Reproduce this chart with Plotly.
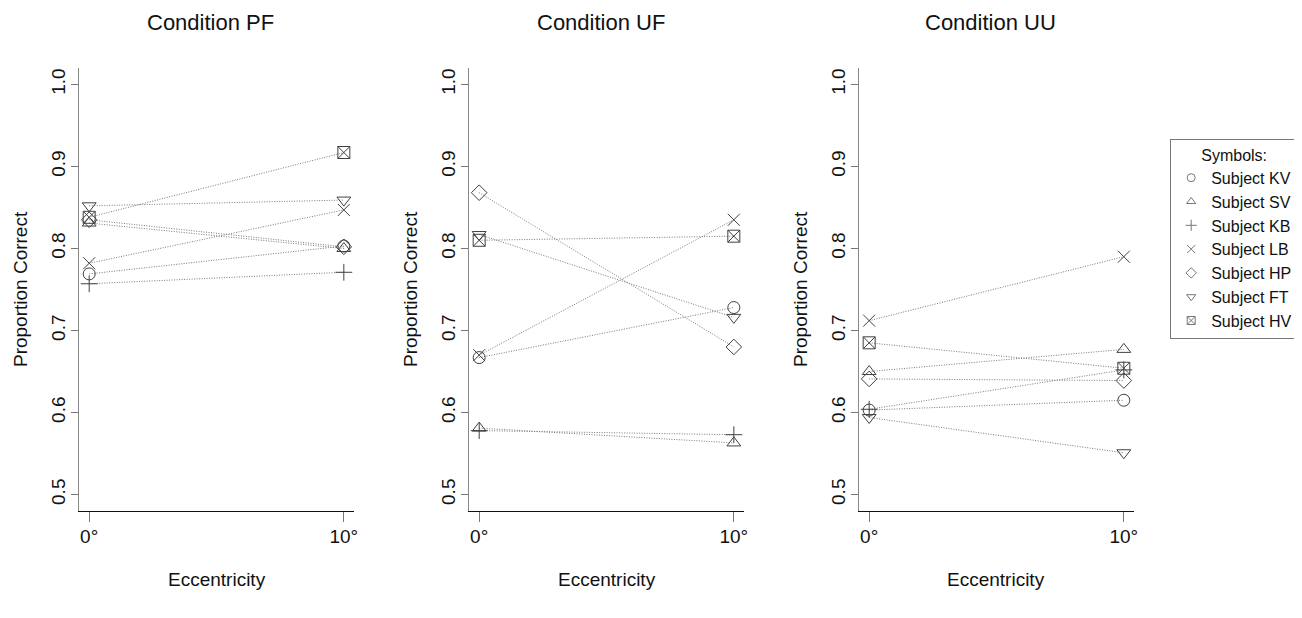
import plotly.graph_objects as go

# ---- data ----
eccentricity = [0, 10]
ecc_labels = ["0°", "10°"]
subjects = ["Subject KV", "Subject SV", "Subject KB", "Subject LB",
            "Subject HP", "Subject FT", "Subject HV"]
symbols = ["circle-open", "triangle-up-open", "cross-thin-open", "x-thin-open",
           "diamond-open", "triangle-down-open", "square-x-open"]

pf_0 = [0.769, 0.831, 0.757, 0.782, 0.835, 0.852, 0.838]
pf_10 = [0.803, 0.800, 0.771, 0.847, 0.802, 0.859, 0.917]
uf_0 = [0.667, 0.581, 0.578, 0.670, 0.868, 0.817, 0.810]
uf_10 = [0.728, 0.563, 0.573, 0.835, 0.680, 0.716, 0.815]
uu_0 = [0.603, 0.650, 0.604, 0.712, 0.641, 0.594, 0.685]
uu_10 = [0.615, 0.677, 0.652, 0.790, 0.639, 0.551, 0.654]

panel_titles = ["Condition PF", "Condition UF", "Condition UU"]
y_ticks = [0.5, 0.6, 0.7, 0.8, 0.9, 1.0]
y_ticktext = ["0.5", "0.6", "0.7", "0.8", "0.9", "1.0"]

panels = [(pf_0, pf_10), (uf_0, uf_10), (uu_0, uu_10)]

# ---- layout geometry ----
W, H = 1302, 618
ML, MT, MB = 71, 60, 115
panel_w = 277.5
panel_step = 393.5
MR = W - ML - (2 * panel_step + panel_w)
PW = W - ML - MR
PH = H - MT - MB
domains = [[(i * panel_step) / PW, (i * panel_step + panel_w) / PW] for i in range(3)]

FONT = "Liberation Sans, Arial, Helvetica, sans-serif"
MARK = "#404040"
LINE = "#7a7a7a"

fig = go.Figure()

for p, (v0, v10) in enumerate(panels):
    xa = "x" if p == 0 else f"x{p+1}"
    ya = "y" if p == 0 else f"y{p+1}"
    for s in range(len(subjects)):
        fig.add_trace(go.Scatter(
            x=eccentricity, y=[v0[s], v10[s]],
            mode="lines+markers",
            line=dict(color=LINE, width=1, dash="1px,1.5px"),
            marker=dict(symbol=symbols[s], size=12, color=MARK,
                        line=dict(color=MARK, width=1)),
            xaxis=xa, yaxis=ya, showlegend=False, name=subjects[s],
            hoverinfo="skip",
        ))

# legend-only entries (symbols only)
for s in range(len(subjects)):
    fig.add_trace(go.Scatter(
        x=[None], y=[None], mode="markers", name=subjects[s],
        marker=dict(symbol=symbols[s], size=8, color="#777777",
                    line=dict(color="#777777", width=1)),
        showlegend=True,
    ))

axis_font = dict(family=FONT, size=19, color="#111111")

for p in range(3):
    xkey = "xaxis" if p == 0 else f"xaxis{p+1}"
    ykey = "yaxis" if p == 0 else f"yaxis{p+1}"
    xa = "x" if p == 0 else f"x{p+1}"
    fig.layout[xkey] = dict(
        domain=domains[p], range=[-0.4, 10.4], tickmode="array",
        tickvals=eccentricity, ticktext=ecc_labels, ticks="outside",
        ticklen=10, tickcolor="#777777", showline=True, linecolor="#111111",
        linewidth=1, showgrid=False, zeroline=False, tickfont=axis_font,
        ticklabelstandoff=-2,
        anchor="y" if p == 0 else f"y{p+1}", fixedrange=True,
    )
    fig.layout[ykey] = dict(
        domain=[0, 1], range=[0.48, 1.02], tickmode="array",
        tickvals=y_ticks, ticktext=y_ticktext, tickangle=-90,
        ticks="outside", ticklen=7, tickcolor="#777777", showline=True,
        linecolor="#888888", linewidth=1, showgrid=False, zeroline=False,
        tickfont=axis_font, anchor=xa, fixedrange=True,
        ticklabelstandoff=-2,
    )

annotations = []
for p in range(3):
    cx = (domains[p][0] + domains[p][1]) / 2
    annotations.append(dict(
        text=panel_titles[p], x=cx - 6 / PW, y=1 + (MT - 15) / PH, xref="paper", yref="paper",
        xanchor="center", yanchor="middle", showarrow=False,
        font=dict(family=FONT, size=22, color="#111111")))
    annotations.append(dict(
        text="Eccentricity", x=cx, y=-(571 - (MT + PH)) / PH, xref="paper", yref="paper",
        xanchor="center", yanchor="middle", showarrow=False,
        font=dict(family=FONT, size=19, color="#111111")))
    annotations.append(dict(
        text="Proportion Correct", x=domains[p][0] - 59 / PW, y=0.5,
        xref="paper", yref="paper", xanchor="center", yanchor="middle",
        textangle=-90, showarrow=False,
        font=dict(family=FONT, size=19, color="#111111")))

fig.update_layout(
    width=W, height=H, margin=dict(l=ML, r=MR, t=MT, b=MB),
    paper_bgcolor="white", plot_bgcolor="white",
    annotations=annotations,
    legend=dict(
        title=dict(text="Symbols:", side="top center",
                   font=dict(family=FONT, size=16, color="#111111")),
        font=dict(family=FONT, size=16, color="#111111"),
        x=(1172 - ML) / PW, xanchor="left",
        y=(MT + PH - 131) / PH, yanchor="top",
        bordercolor="#777777", borderwidth=1, bgcolor="white",
        itemwidth=30, tracegroupgap=0,
    ),
)

fig.write_html("out.html")
